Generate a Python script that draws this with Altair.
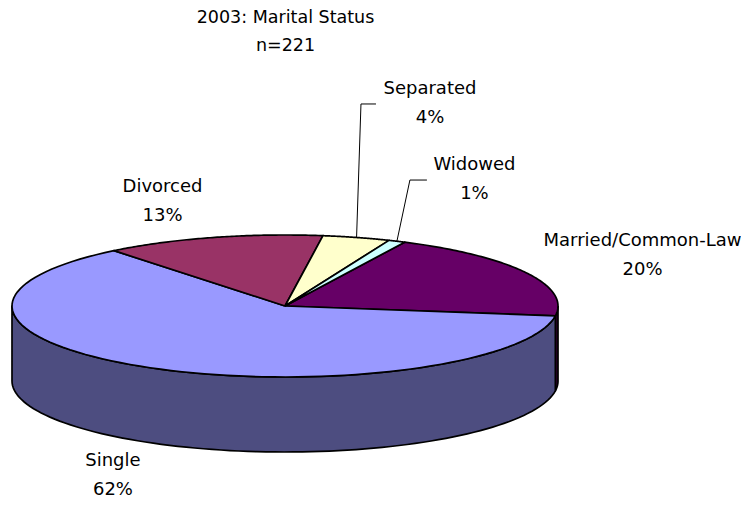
import altair as alt
import pandas as pd

# ---- data ----
categories = ["Married/Common-Law", "Single", "Divorced", "Separated", "Widowed"]
percents = [20, 62, 13, 4, 1]
title_lines = ["2003: Marital Status", "n=221"]

# ---- styles ----
top_colors = ["#660066", "#9999FF", "#993366", "#FFFFCC", "#CCFFFF"]
side_colors = ["#330033", "#4D4D80", "#4D1A33", "#80806A", "#6A8080"]
FONT = "DejaVu Sans"
LINE_H = 29

# ---- layout (page pixel coordinates) ----
CX, CY, RX, RY, DEPTH = 285, 306, 273, 71, 75
START_ANGLE = 26
N = 90
label_dx = [116.5, -37.2, -50, 73.4, 77.5]
label_dy = [-16.7, 33.0, -36.5, -133.5, -62.2]
has_leader = [0, 0, 0, 1, 1]
leader_elbow_dx = [0, 0, 0, -69, -64.5]
leader_end_dx = [0, 0, 0, -54, -47.5]
leader_dy = [0, 0, 0, 0, 1]


def arr(v):
    return "[" + ",".join(str(x) for x in v) + "]"


df = pd.DataFrame({"cat": categories, "pct": percents, "idx": list(range(len(categories)))})

xs = alt.Scale(domain=[8, 741], nice=False, zero=False)
ys = alt.Scale(domain=[8, 500], nice=False, zero=False, reverse=True)
X = alt.X("px:Q", scale=xs, axis=None)
Y = alt.Y("py:Q", scale=ys, axis=None)

base = (
    alt.Chart(df)
    .transform_joinaggregate(total="sum(pct)")
    .transform_window(cum="sum(pct)", sort=[alt.SortField("idx", order="ascending")], frame=[None, 0])
    .transform_calculate(
        s=f"{START_ANGLE} + (datum.cum - datum.pct) / datum.total * 360",
        e=f"{START_ANGLE} + datum.cum / datum.total * 360",
        m="(datum.s + datum.e) / 2",
    )
)

side = (
    base.transform_calculate(ss="max(datum.s, 90)", ee="min(datum.e, 270)")
    .transform_filter("datum.ee > datum.ss")
    .transform_calculate(k=f"sequence(0, {2 * N + 3})")
    .transform_flatten(["k"])
    .transform_calculate(
        t=f"datum.k <= {N} ? datum.k / {N} : (datum.k <= {2 * N + 1} ? ({2 * N + 1} - datum.k) / {N} : 0)",
        low=f"(datum.k > {N} && datum.k <= {2 * N + 1}) ? 1 : 0",
        ang="(datum.ss + (datum.ee - datum.ss) * datum.t) * PI / 180",
        px=f"{CX} + {RX} * sin(datum.ang)",
        py=f"{CY} - {RY} * cos(datum.ang) + datum.low * {DEPTH}",
    )
    .mark_line(stroke="black", strokeWidth=1.7, strokeJoin="round")
    .encode(
        x=X, y=Y, order="k:Q", detail="cat:N",
        fill=alt.Fill("cat:N", scale=alt.Scale(domain=categories, range=side_colors), legend=None),
    )
)

top = (
    base.transform_calculate(k=f"sequence(0, {N + 3})")
    .transform_flatten(["k"])
    .transform_calculate(
        ctr=f"(datum.k == 0 || datum.k == {N + 2}) ? 1 : 0",
        ang=f"(datum.s + (datum.e - datum.s) * min(max(datum.k - 1, 0), {N}) / {N}) * PI / 180",
        px=f"datum.ctr ? {CX} : {CX} + {RX} * sin(datum.ang)",
        py=f"datum.ctr ? {CY} : {CY} - {RY} * cos(datum.ang)",
    )
    .mark_line(stroke="black", strokeWidth=1.7, strokeJoin="round")
    .encode(
        x=X, y=Y, order="k:Q", detail="cat:N",
        fill=alt.Fill("cat:N", scale=alt.Scale(domain=categories, range=top_colors), legend=None),
    )
)

anchor = dict(
    mr="datum.m * PI / 180",
    ex=f"{CX} + {RX} * sin(datum.mr)",
    ey=f"{CY} - {RY} * cos(datum.mr) + (cos(datum.mr) < 0 ? {DEPTH} : 0)",
    lx=f"datum.ex + {arr(label_dx)}[datum.idx]",
    ly=f"datum.ey + {arr(label_dy)}[datum.idx]",
)

leaders = (
    base.transform_filter(f"{arr(has_leader)}[datum.idx] == 1")
    .transform_calculate(**anchor)
    .transform_calculate(k="sequence(0, 3)")
    .transform_flatten(["k"])
    .transform_calculate(
        px=f"datum.k == 0 ? datum.ex : datum.lx + (datum.k == 1 ? {arr(leader_elbow_dx)}[datum.idx] : {arr(leader_end_dx)}[datum.idx])",
        py=f"datum.k == 0 ? datum.ey : datum.ly + {arr(leader_dy)}[datum.idx]",
    )
    .mark_line(color="black", strokeWidth=1)
    .encode(x=X, y=Y, order="k:Q", detail="cat:N")
)

labels = (
    base.transform_calculate(**anchor)
    .transform_calculate(
        px="datum.lx",
        py=f"datum.ly - {LINE_H / 2}",
        txt="datum.cat + '\\n' + datum.pct + '%'",
    )
    .mark_text(font=FONT, fontSize=18, lineHeight=LINE_H, lineBreak="\n", baseline="middle", align="center", color="black")
    .encode(x=X, y=Y, text="txt:N")
)

title = (
    alt.Chart(pd.DataFrame({"t": title_lines, "row": list(range(len(title_lines)))}))
    .transform_calculate(px="285.5", py="17.5 + datum.row * 28.5")
    .mark_text(font=FONT, fontSize=17.5, baseline="middle", align="center", color="black")
    .encode(x=X, y=Y, text="t:N")
)

chart = (
    alt.layer(side, top, leaders, labels, title)
    .resolve_scale(fill="independent")
    .properties(width=733, height=492, padding=0, autosize=alt.AutoSizeParams(type="none"))
    .configure_view(stroke=None)
)

chart.save("out.html", embed_options={"renderer": "svg", "actions": False})
